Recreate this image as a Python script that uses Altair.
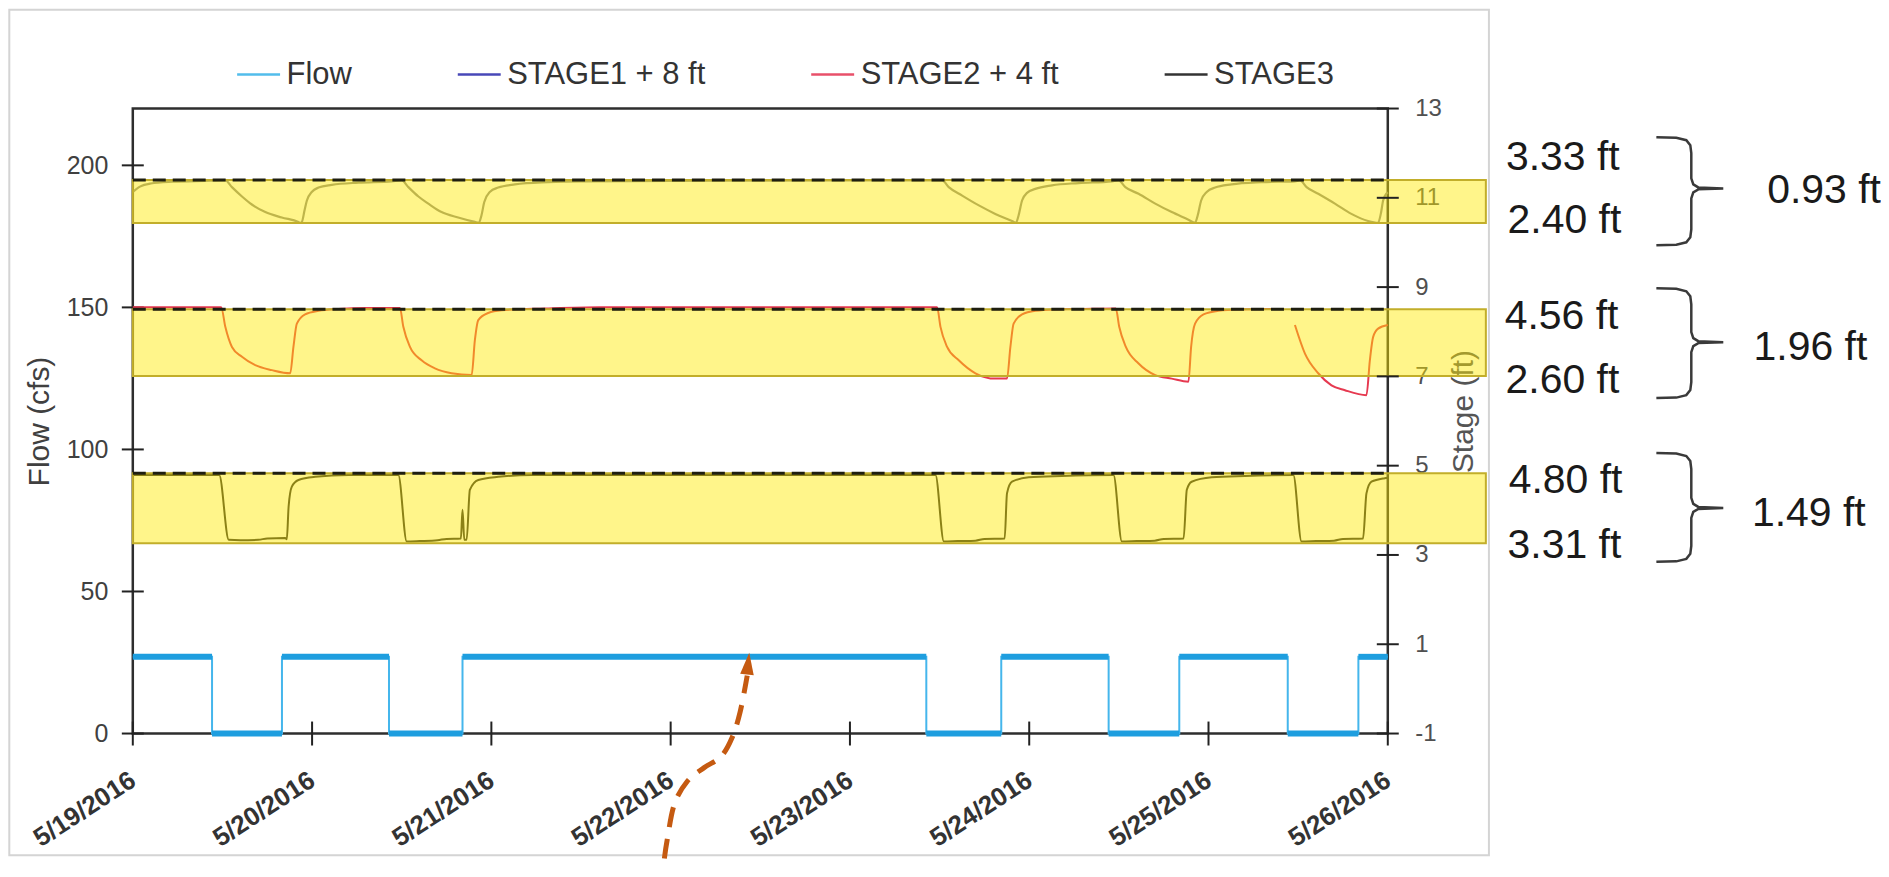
import altair as alt
import pandas as pd

# ---------------- data ----------------
START = pd.Timestamp("2016-05-19")
TICK_DATES = [19, 20, 21, 22, 23, 24, 25, 26]          # May 2016
FLOW_TICKS = [0, 50, 100, 150, 200]
STAGE_TICKS = [-1, 1, 3, 5, 7, 9, 11, 13]

# Flow: step series (day offset from 5/19 00:00, cfs)
FLOW_DAY = [0.000, 0.442, 0.832, 1.429, 1.839, 4.426, 4.844, 5.443, 5.837, 6.442, 6.836]
FLOW_CFS = [27, 0, 27, 0, 27, 0, 27, 0, 27, 0, 27]
PERIOD_END_DAY = 7.0

STAGE1_DAY = [0.000, 0.040, 0.100, 0.220, 0.400, 0.516, 0.553, 0.609, 0.664, 0.739, 0.831, 0.924, 0.934,
              0.943, 0.958, 0.971, 0.998, 1.036, 1.110, 1.259, 1.444, 1.500, 1.537, 1.593, 1.648, 1.722,
              1.815, 1.908, 1.930, 1.945, 1.960, 1.991, 2.038, 2.131, 2.317, 2.502, 3.000, 4.000, 4.514,
              4.551, 4.626, 4.719, 4.811, 4.904, 4.926, 4.941, 4.960, 4.988, 5.034, 5.127, 5.276, 5.461,
              5.498, 5.536, 5.610, 5.703, 5.795, 5.888, 5.925, 5.940, 5.959, 5.990, 6.037, 6.129, 6.296,
              6.482, 6.510, 6.547, 6.612, 6.705, 6.797, 6.890, 6.946, 6.961, 6.974, 6.992, 7.000]
STAGE1_FT = [11.13, 11.25, 11.32, 11.36, 11.38, 11.39, 11.24, 11.03, 10.85, 10.68, 10.56, 10.46, 10.44,
             10.46, 10.72, 10.94, 11.13, 11.23, 11.29, 11.34, 11.37, 11.39, 11.24, 11.03, 10.87, 10.68,
             10.56, 10.46, 10.44, 10.61, 10.90, 11.13, 11.23, 11.30, 11.35, 11.37, 11.38, 11.39, 11.39,
             11.24, 11.05, 10.83, 10.64, 10.48, 10.44, 10.61, 10.94, 11.11, 11.20, 11.28, 11.33, 11.37,
             11.39, 11.24, 11.09, 10.87, 10.68, 10.51, 10.44, 10.61, 10.94, 11.13, 11.23, 11.30, 11.35,
             11.37, 11.39, 11.24, 11.09, 10.87, 10.64, 10.48, 10.44, 10.64, 10.94, 11.09, 11.12]

STAGE2_DAY = [0.000, 0.493, 0.516, 0.553, 0.609, 0.683, 0.776, 0.878, 0.896, 0.915, 0.961, 1.036, 1.147,
              1.300, 1.490, 1.509, 1.546, 1.611, 1.685, 1.778, 1.890, 1.908, 1.927, 1.982, 2.057, 2.300,
              2.600, 4.486, 4.505, 4.542, 4.607, 4.700, 4.811, 4.876, 4.895, 4.913, 4.960, 5.034, 5.146,
              5.300, 5.483, 5.502, 5.539, 5.610, 5.703, 5.795, 5.888, 5.903, 5.925, 5.972, 6.055, 6.166,
              6.400,
              6.482, 6.538, 6.612, 6.686, 6.761, 6.881, 6.900, 6.918, 6.946, 7.000]
STAGE2_FT = [8.55, 8.55, 8.11, 7.66, 7.44, 7.25, 7.14, 7.07, 7.66, 8.18, 8.39, 8.47, 8.51,
             8.53, 8.53, 8.11, 7.66, 7.36, 7.18, 7.07, 7.03, 7.81, 8.26, 8.42, 8.48, 8.52,
             8.55, 8.55, 8.11, 7.66, 7.36, 7.07, 6.95, 6.95, 7.66, 8.18, 8.39, 8.47, 8.50,
             8.51, 8.52, 8.11, 7.66, 7.29, 7.03, 6.95, 6.88, 7.66, 8.18, 8.39, 8.47, 8.50,
             8.51,
             8.15, 7.51, 7.07, 6.80, 6.69, 6.58, 7.36, 7.88, 8.07, 8.15]
STAGE2_PIECE = ["a"] * 53 + ["b"] * 10   # the record has a gap before the last drawdown

STAGE3_DAY = [0.000, 0.482, 0.535, 0.600, 0.700, 0.750, 0.850, 0.859, 0.869, 0.887, 0.924, 1.017, 1.203,
              1.481, 1.528, 1.600, 1.700, 1.750, 1.830, 1.839, 1.849, 1.862, 1.880, 1.927, 2.038, 2.224,
              4.477, 4.524, 4.600, 4.700, 4.750, 4.863, 4.876, 4.904, 4.997, 5.182, 5.470, 5.517, 5.600,
              5.700, 5.750, 5.861, 5.879, 5.906, 6.018, 6.204, 6.473, 6.519, 6.600, 6.700, 6.750, 6.862,
              6.881, 6.909, 6.983, 7.000]
STAGE3_FT = [4.79, 4.79, 3.34, 3.33, 3.34, 3.37, 3.38, 3.35, 4.08, 4.53, 4.68, 4.75, 4.79,
             4.79, 3.30, 3.31, 3.33, 3.36, 3.37, 4.01, 3.34, 3.34, 4.46, 4.68, 4.75, 4.79,
             4.79, 3.30, 3.31, 3.32, 3.36, 3.37, 4.38, 4.64, 4.74, 4.77, 4.79, 3.30, 3.31,
             3.32, 3.36, 3.37, 4.46, 4.64, 4.74, 4.77, 4.79, 3.30, 3.31, 3.32, 3.36, 3.37,
             4.38, 4.64, 4.72, 4.73]

# highlighted stage ranges (ft on the stage axis) and reference levels
BAND_LO = [10.435, 7.006, 3.265]
BAND_HI = [11.40, 8.505, 4.83]
BAND_END_DAY = 7.547
DASH_FT = [11.40, 8.505, 4.83]

LEGEND_NAMES = ["Flow", "STAGE1 + 8 ft", "STAGE2 + 4 ft", "STAGE3"]
LEGEND_COLORS = ["#52BDEB", "#4848B8", "#E8506A", "#333333"]

# annotations (placed in axis units: days after 5/19, stage ft)
ANN_TEXT = ["3.33 ft", "2.40 ft", "4.56 ft", "2.60 ft", "4.80 ft", "3.31 ft", "0.93 ft", "1.96 ft", "1.49 ft"]
ANN_DAY = [7.659, 7.668, 7.652, 7.657, 7.674, 7.668, 9.116, 9.040, 9.031]
ANN_FT = [11.893, 10.473, 8.326, 6.894, 4.658, 3.204, 11.144, 7.633, 3.920]

BRACE_LEFT_DAY = 8.498
BRACE_TOP = [12.358, 8.974, 5.284]
BRACE_MID = [11.211, 7.767, 4.054]
BRACE_BOT = [9.936, 6.514, 2.846]
# brace outline: (day offset, reference, ft offset)
BRACE_SHAPE = [(0.0, "T", 0.0), (0.1114, "T", -0.011), (0.1671, "T", -0.067), (0.1893, "T", -0.179),
               (0.1949, "T", -0.358), (0.1949, "M", 0.224), (0.2060, "M", 0.090), (0.2339, "M", 0.022),
               (0.3731, "M", 0.0), (0.2339, "M", -0.022), (0.2060, "M", -0.090), (0.1949, "M", -0.224),
               (0.1949, "B", 0.358), (0.1893, "B", 0.179), (0.1671, "B", 0.067), (0.1114, "B", 0.011),
               (0.0, "B", 0.0)]

ARROW_DAY = [2.965, 2.981, 3.020, 3.092, 3.187, 3.281, 3.343, 3.388, 3.427]
ARROW_CFS = [-44.0, -37.3, -25.0, -16.9, -12.0, -8.1, -1.4, 7.7, 20.4]
ARROW_HEAD_DAY = 3.432
ARROW_HEAD_CFS = 24.6


def iso(days):
    return [(START + pd.to_timedelta(d, unit="D")).strftime("%Y-%m-%dT%H:%M:%S") for d in days]


# ---------------- tables ----------------
seg_end = FLOW_DAY[1:] + [PERIOD_END_DAY]
flow_seg = pd.DataFrame({"t": iso(FLOW_DAY), "t_end": iso(seg_end), "cfs": FLOW_CFS})
flow_step = pd.DataFrame({"t": iso(FLOW_DAY + [PERIOD_END_DAY]), "cfs": FLOW_CFS + [FLOW_CFS[-1]]})
s1 = pd.DataFrame({"t": iso(STAGE1_DAY), "ft": STAGE1_FT})
s2 = pd.DataFrame({"t": iso(STAGE2_DAY), "ft": STAGE2_FT, "piece": STAGE2_PIECE})
s3 = pd.DataFrame({"t": iso(STAGE3_DAY), "ft": STAGE3_FT})
bands = pd.DataFrame({"t": iso([0.0] * 3), "t_end": iso([BAND_END_DAY] * 3), "lo": BAND_LO, "hi": BAND_HI})
dashes = pd.DataFrame({"t": iso([0.0] * 3), "t_end": iso([PERIOD_END_DAY] * 3), "ft": DASH_FT})
xticks = pd.DataFrame({"t": [f"2016-05-{d:02d}T00:00:00" for d in TICK_DATES]})
fticks = pd.DataFrame({"v": FLOW_TICKS})
sticks = pd.DataFrame({"v": STAGE_TICKS})
legend_df = pd.DataFrame({"t": iso([0.0] * 4), "ft": [5.0] * 4, "series": LEGEND_NAMES})
ann = pd.DataFrame({"t": iso(ANN_DAY), "ft": ANN_FT, "label": ANN_TEXT})
arrow = pd.DataFrame({"t": iso(ARROW_DAY), "cfs": ARROW_CFS, "i": list(range(len(ARROW_DAY)))})
arrow_head = pd.DataFrame({"t": iso([ARROW_HEAD_DAY]), "cfs": [ARROW_HEAD_CFS]})

rows = []
for b, (tp, md, bt) in enumerate(zip(BRACE_TOP, BRACE_MID, BRACE_BOT)):
    ref = {"T": tp, "M": md, "B": bt}
    for i, (dd, r, df) in enumerate(BRACE_SHAPE):
        rows.append({"brace": b, "i": i, "t": iso([BRACE_LEFT_DAY + dd])[0], "ft": ref[r] + df})
braces = pd.DataFrame(rows)
one = pd.DataFrame({"k": [0]})

# ---------------- scales / axes ----------------
W, H = 1257, 626
FONT = "Liberation Sans"

x_scale = alt.Scale(domain=[alt.DateTime(year=2016, month=5, date=19),
                            alt.DateTime(year=2016, month=5, date=26)], nice=False)
x_axis = alt.Axis(values=[alt.DateTime(year=2016, month=5, date=d) for d in TICK_DATES],
                  format="%-m/%-d/%Y", labelAngle=327, labelAlign="right", labelBaseline="middle",
                  labelFont=FONT, labelFontSize=26, labelFontWeight="bold", labelColor="#333333",
                  labelPadding=44, labelFlush=False, labelOverlap=False, ticks=False, tickSize=0,
                  domain=False, grid=False, title=None)
flow_scale = alt.Scale(domain=[0, 220], nice=False, zero=False)
flow_axis = alt.Axis(orient="left", values=FLOW_TICKS, title="Flow (cfs)", titleFont=FONT,
                     titleFontSize=30, titleFontWeight="normal", titleColor="#404040", titlePadding=12,
                     labelFont=FONT, labelFontSize=25, labelColor="#404040", labelPadding=25,
                     ticks=False, tickSize=0, domain=False, grid=False)
stage_scale = alt.Scale(domain=[-1, 13], nice=False, zero=False)
stage_axis = alt.Axis(orient="right", values=STAGE_TICKS, title="Stage (ft)", titleFont=FONT,
                      titleFontSize=30, titleFontWeight="normal", titleColor="#555555", titleAngle=270,
                      titleX=61, titleY=303, titleAlign="center", titleBaseline="top",
                      labelExpr="datum.value < 0 ? '-' + abs(datum.value) : datum.label",
                      labelFont=FONT, labelFontSize=24, labelColor="#505050",
                      labelPadding=27, ticks=False, tickSize=0, domain=False, grid=False)


def X(field):
    return alt.X(f"{field}:T", scale=x_scale, axis=x_axis, title=None)


def YF(field):
    return alt.Y(f"{field}:Q", scale=flow_scale, axis=flow_axis)


def YS(field):
    return alt.Y(f"{field}:Q", scale=stage_scale, axis=stage_axis)


# ---------------- flow group ----------------
frame = alt.Chart(one).mark_rect(fillOpacity=0, stroke="#D4D4D4", strokeWidth=2).encode(
    x=alt.value(-123.7), x2=alt.value(1358.3), y=alt.value(-99), y2=alt.value(748))
flow_thin = alt.Chart(flow_step).mark_line(interpolate="step-after", color="#45B6EC", strokeWidth=2).encode(
    x=X("t"), y=YF("cfs"))
flow_thick = alt.Chart(flow_seg).mark_rule(color="#1E9EDF", strokeWidth=6).encode(
    x=X("t"), x2=alt.X2("t_end"), y=YF("cfs"))
arrow_line = alt.Chart(arrow).mark_line(color="#C55A11", strokeWidth=5, strokeDash=[20, 12],
                                        interpolate="cardinal").encode(
    x=X("t"), y=YF("cfs"), order=alt.Order("i:Q"))
arrow_tip = alt.Chart(arrow_head).mark_point(shape="M0,-1L0.62,1L-0.62,1Z", filled=True, size=484,
                                             angle=6, color="#C55A11", opacity=1).encode(
    x=X("t"), y=YF("cfs"))
left_ticks = alt.Chart(fticks).mark_rule(color="#222222", strokeWidth=2).encode(
    x=alt.value(-11), x2=alt.value(11), y=YF("v"))
flow_group = alt.layer(frame, flow_thin, flow_thick, arrow_line, arrow_tip, left_ticks)

# ---------------- stage group ----------------
dash_lines = alt.Chart(dashes).mark_rule(color="#1E1E10", strokeWidth=3, strokeDash=[13, 7]).encode(
    x=X("t"), x2=alt.X2("t_end"), y=YS("ft"))
line1 = alt.Chart(s1).mark_line(color="#8A8A8A", strokeWidth=2.2, interpolate="monotone").encode(
    x=X("t"), y=YS("ft"))
line2 = alt.Chart(s2).mark_line(color="#E63950", strokeWidth=2, interpolate="monotone").encode(
    x=X("t"), y=YS("ft"), detail="piece:N")
line3 = alt.Chart(s3).mark_line(color="#2A2A2A", strokeWidth=2, interpolate="monotone").encode(
    x=X("t"), y=YS("ft"))
band_rect = alt.Chart(bands).mark_rect(fill="#FFEA00", fillOpacity=0.46, stroke="#C2AE2A",
                                       strokeWidth=2).encode(
    x=X("t"), x2=alt.X2("t_end"), y=YS("lo"), y2=alt.Y2("hi"))
right_ticks = alt.Chart(sticks).mark_rule(color="#222222", strokeWidth=2).encode(
    x=alt.value(W - 11), x2=alt.value(W + 11), y=YS("v"))
bottom_ticks = alt.Chart(xticks).mark_rule(color="#222222", strokeWidth=2).encode(
    x=X("t"), y=alt.value(H - 12), y2=alt.value(H + 12))
legend_layer = alt.Chart(legend_df).mark_line(strokeWidth=2.5).encode(
    x=X("t"), y=YS("ft"),
    color=alt.Color("series:N", scale=alt.Scale(domain=LEGEND_NAMES, range=LEGEND_COLORS),
                    legend=alt.Legend(orient="none", legendX=103, legendY=-57, direction="horizontal",
                                      title=None, symbolType="stroke", symbolSize=1849,
                                      symbolStrokeWidth=2.5, labelFont=FONT, labelFontSize=31,
                                      labelColor="#333333", columnPadding=100, labelOffset=5,
                                      padding=0, labelLimit=400)))
ann_text = alt.Chart(ann).mark_text(font=FONT, fontSize=41, align="left", baseline="middle",
                                    color="#1A1A1A").encode(x=X("t"), y=YS("ft"), text="label:N")
brace_lines = alt.Chart(braces).mark_line(color="#3A3A3A", strokeWidth=2.5).encode(
    x=X("t"), y=YS("ft"), detail="brace:N", order=alt.Order("i:Q"))
stage_group = alt.layer(line1, line2, line3, band_rect, dash_lines, right_ticks, bottom_ticks,
                        legend_layer, ann_text, brace_lines)

chart = alt.layer(flow_group, stage_group).resolve_scale(y="independent").properties(
    width=W, height=H, padding=0
).configure_view(stroke="#2E2E2E", strokeWidth=2.5)

chart.save("out.html", embed_options={"renderer": "svg", "actions": False})
